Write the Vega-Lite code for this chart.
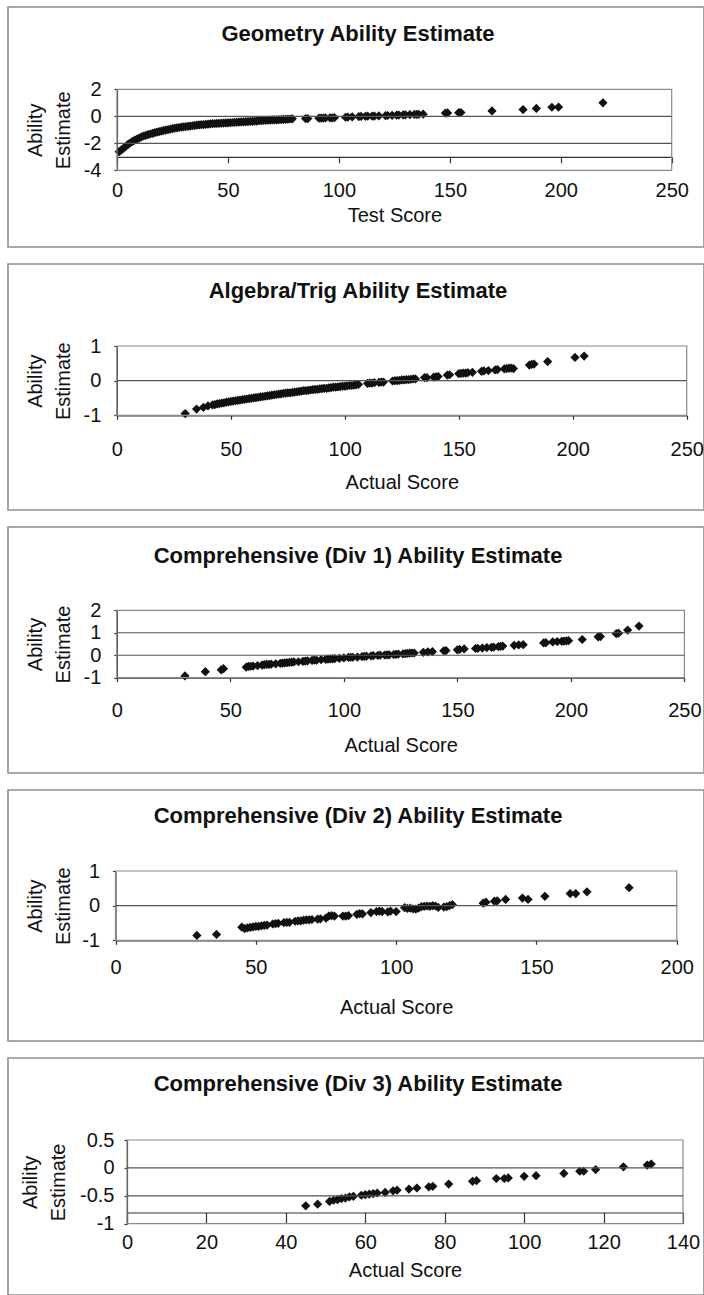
{
  "$schema": "https://vega.github.io/schema/vega-lite/v6.json",
  "background": "white",
  "padding": {"left": 7, "top": 6, "right": 0, "bottom": 0},
  "bounds": "flush",
  "spacing": 17,
  "config": {
    "view": {"stroke": "#8f8f8f", "strokeWidth": 1.6},
    "font": "Liberation Sans",
    "axis": {"labelFont": "Liberation Sans", "labelFontSize": 20, "labelColor": "#111", "titleFont": "Liberation Sans", "titleFontSize": 20, "titleFontWeight": "normal", "titleColor": "#111", "domainColor": "#333", "tickColor": "#333", "domainWidth": 1.2, "tickWidth": 1.2, "grid": false, "labelFlush": false, "labelOverlap": false},
    "title": {"font": "Liberation Sans", "fontSize": 22, "fontWeight": "bold", "color": "#111", "baseline": "alphabetic", "dx": 2},
    "point": {"shape": "diamond", "filled": true, "color": "#111", "size": 85, "opacity": 1}
  },
  "datasets": {
    "geometry": [
      {"score":1,"ability":-2.62},{"score":2,"ability":-2.48},{"score":3,"ability":-2.35},{"score":4,"ability":-2.22},{"score":5,"ability":-2.08},{"score":6,"ability":-1.96},{"score":7,"ability":-1.86},{"score":8,"ability":-1.77},{"score":9,"ability":-1.69},{"score":10,"ability":-1.61},{"score":11,"ability":-1.53},{"score":12,"ability":-1.46},{"score":13,"ability":-1.41},{"score":14,"ability":-1.36},{"score":15,"ability":-1.31},{"score":16,"ability":-1.26},{"score":17,"ability":-1.21},{"score":18,"ability":-1.17},{"score":19,"ability":-1.13},{"score":20,"ability":-1.09},{"score":21,"ability":-1.05},{"score":22,"ability":-1.02},{"score":23,"ability":-0.99},{"score":24,"ability":-0.95},{"score":25,"ability":-0.92},{"score":26,"ability":-0.88},{"score":27,"ability":-0.85},{"score":28,"ability":-0.83},{"score":29,"ability":-0.8},{"score":30,"ability":-0.78},{"score":31,"ability":-0.76},{"score":32,"ability":-0.74},{"score":33,"ability":-0.72},{"score":34,"ability":-0.7},{"score":35,"ability":-0.68},{"score":36,"ability":-0.66},{"score":37,"ability":-0.64},{"score":38,"ability":-0.62},{"score":39,"ability":-0.61},{"score":40,"ability":-0.59},{"score":41,"ability":-0.58},{"score":42,"ability":-0.56},{"score":43,"ability":-0.55},{"score":44,"ability":-0.54},{"score":45,"ability":-0.53},{"score":46,"ability":-0.52},{"score":47,"ability":-0.51},{"score":48,"ability":-0.5},{"score":49,"ability":-0.49},{"score":50,"ability":-0.48},{"score":51,"ability":-0.47},{"score":52,"ability":-0.46},{"score":53,"ability":-0.45},{"score":54,"ability":-0.44},{"score":55,"ability":-0.43},{"score":56,"ability":-0.42},{"score":57,"ability":-0.41},{"score":58,"ability":-0.4},{"score":59,"ability":-0.39},{"score":60,"ability":-0.38},{"score":61,"ability":-0.37},{"score":62,"ability":-0.36},{"score":63,"ability":-0.35},{"score":64,"ability":-0.33},{"score":65,"ability":-0.32},{"score":66,"ability":-0.31},{"score":67,"ability":-0.3},{"score":68,"ability":-0.29},{"score":69,"ability":-0.28},{"score":70,"ability":-0.27},{"score":71,"ability":-0.27},{"score":72,"ability":-0.26},{"score":73,"ability":-0.25},{"score":74,"ability":-0.24},{"score":75,"ability":-0.23},{"score":76,"ability":-0.22},{"score":77,"ability":-0.21},{"score":78,"ability":-0.2},{"score":79,"ability":-0.19},{"score":85,"ability":-0.17},{"score":86,"ability":-0.17},{"score":91,"ability":-0.14},{"score":92,"ability":-0.13},{"score":93,"ability":-0.13},{"score":94,"ability":-0.12},{"score":96,"ability":-0.11},{"score":97,"ability":-0.11},{"score":98,"ability":-0.1},{"score":103,"ability":-0.07},{"score":104,"ability":-0.06},{"score":106,"ability":-0.04},{"score":109,"ability":-0.02},{"score":110,"ability":-0.01},{"score":112,"ability":0.0},{"score":113,"ability":0.01},{"score":115,"ability":0.02},{"score":116,"ability":0.02},{"score":118,"ability":0.03},{"score":121,"ability":0.05},{"score":122,"ability":0.06},{"score":124,"ability":0.07},{"score":126,"ability":0.08},{"score":127,"ability":0.09},{"score":129,"ability":0.1},{"score":130,"ability":0.11},{"score":132,"ability":0.12},{"score":134,"ability":0.14},{"score":135,"ability":0.15},{"score":136,"ability":0.15},{"score":138,"ability":0.16},{"score":148,"ability":0.24},{"score":149,"ability":0.25},{"score":154,"ability":0.27},{"score":155,"ability":0.28},{"score":169,"ability":0.4},{"score":183,"ability":0.5},{"score":189,"ability":0.58},{"score":196,"ability":0.67},{"score":199,"ability":0.68},{"score":219,"ability":1.0}
    ],
    "algebra": [
      {"score":30,"ability":-0.95},{"score":35,"ability":-0.82},{"score":38,"ability":-0.77},{"score":40,"ability":-0.73},{"score":42,"ability":-0.7},{"score":43,"ability":-0.69},{"score":44,"ability":-0.67},{"score":45,"ability":-0.66},{"score":46,"ability":-0.65},{"score":47,"ability":-0.64},{"score":48,"ability":-0.62},{"score":49,"ability":-0.61},{"score":50,"ability":-0.6},{"score":51,"ability":-0.59},{"score":52,"ability":-0.58},{"score":53,"ability":-0.57},{"score":54,"ability":-0.56},{"score":55,"ability":-0.55},{"score":56,"ability":-0.54},{"score":57,"ability":-0.53},{"score":58,"ability":-0.52},{"score":59,"ability":-0.51},{"score":60,"ability":-0.5},{"score":61,"ability":-0.49},{"score":62,"ability":-0.48},{"score":63,"ability":-0.47},{"score":64,"ability":-0.46},{"score":65,"ability":-0.45},{"score":66,"ability":-0.44},{"score":67,"ability":-0.43},{"score":68,"ability":-0.42},{"score":69,"ability":-0.41},{"score":70,"ability":-0.4},{"score":71,"ability":-0.39},{"score":72,"ability":-0.38},{"score":73,"ability":-0.37},{"score":74,"ability":-0.36},{"score":75,"ability":-0.35},{"score":76,"ability":-0.35},{"score":77,"ability":-0.34},{"score":78,"ability":-0.33},{"score":79,"ability":-0.32},{"score":80,"ability":-0.31},{"score":81,"ability":-0.3},{"score":82,"ability":-0.29},{"score":83,"ability":-0.29},{"score":84,"ability":-0.28},{"score":85,"ability":-0.27},{"score":86,"ability":-0.26},{"score":87,"ability":-0.25},{"score":88,"ability":-0.25},{"score":89,"ability":-0.24},{"score":90,"ability":-0.23},{"score":91,"ability":-0.22},{"score":92,"ability":-0.22},{"score":93,"ability":-0.21},{"score":94,"ability":-0.2},{"score":95,"ability":-0.19},{"score":96,"ability":-0.19},{"score":97,"ability":-0.18},{"score":98,"ability":-0.17},{"score":99,"ability":-0.16},{"score":100,"ability":-0.16},{"score":101,"ability":-0.15},{"score":102,"ability":-0.14},{"score":103,"ability":-0.14},{"score":104,"ability":-0.13},{"score":105,"ability":-0.12},{"score":106,"ability":-0.11},{"score":110,"ability":-0.08},{"score":111,"ability":-0.07},{"score":112,"ability":-0.07},{"score":113,"ability":-0.06},{"score":115,"ability":-0.05},{"score":116,"ability":-0.04},{"score":117,"ability":-0.04},{"score":121,"ability":-0.01},{"score":122,"ability":0.0},{"score":123,"ability":0.0},{"score":124,"ability":0.01},{"score":125,"ability":0.02},{"score":126,"ability":0.02},{"score":127,"ability":0.03},{"score":128,"ability":0.03},{"score":129,"ability":0.04},{"score":130,"ability":0.05},{"score":131,"ability":0.05},{"score":135,"ability":0.09},{"score":136,"ability":0.09},{"score":139,"ability":0.1},{"score":140,"ability":0.11},{"score":141,"ability":0.12},{"score":145,"ability":0.16},{"score":146,"ability":0.17},{"score":150,"ability":0.2},{"score":151,"ability":0.21},{"score":152,"ability":0.22},{"score":153,"ability":0.22},{"score":154,"ability":0.23},{"score":156,"ability":0.24},{"score":160,"ability":0.27},{"score":161,"ability":0.28},{"score":163,"ability":0.29},{"score":166,"ability":0.31},{"score":167,"ability":0.32},{"score":170,"ability":0.34},{"score":171,"ability":0.35},{"score":172,"ability":0.36},{"score":173,"ability":0.36},{"score":174,"ability":0.35},{"score":181,"ability":0.45},{"score":182,"ability":0.47},{"score":183,"ability":0.48},{"score":189,"ability":0.55},{"score":201,"ability":0.67},{"score":205,"ability":0.71}
    ],
    "div1": [
      {"score":30,"ability":-0.92},{"score":39,"ability":-0.73},{"score":46,"ability":-0.65},{"score":47,"ability":-0.6},{"score":57,"ability":-0.53},{"score":58,"ability":-0.5},{"score":59,"ability":-0.49},{"score":60,"ability":-0.48},{"score":62,"ability":-0.46},{"score":64,"ability":-0.44},{"score":65,"ability":-0.42},{"score":66,"ability":-0.41},{"score":67,"ability":-0.41},{"score":68,"ability":-0.4},{"score":70,"ability":-0.38},{"score":72,"ability":-0.36},{"score":73,"ability":-0.35},{"score":74,"ability":-0.34},{"score":75,"ability":-0.33},{"score":76,"ability":-0.32},{"score":77,"ability":-0.31},{"score":78,"ability":-0.3},{"score":80,"ability":-0.29},{"score":82,"ability":-0.27},{"score":83,"ability":-0.26},{"score":84,"ability":-0.25},{"score":86,"ability":-0.23},{"score":87,"ability":-0.22},{"score":88,"ability":-0.22},{"score":90,"ability":-0.2},{"score":92,"ability":-0.18},{"score":93,"ability":-0.17},{"score":94,"ability":-0.16},{"score":95,"ability":-0.16},{"score":96,"ability":-0.15},{"score":98,"ability":-0.14},{"score":100,"ability":-0.12},{"score":102,"ability":-0.1},{"score":103,"ability":-0.09},{"score":104,"ability":-0.09},{"score":106,"ability":-0.08},{"score":108,"ability":-0.06},{"score":109,"ability":-0.05},{"score":110,"ability":-0.04},{"score":112,"ability":-0.03},{"score":113,"ability":-0.02},{"score":115,"ability":-0.01},{"score":116,"ability":0.0},{"score":118,"ability":0.01},{"score":119,"ability":0.02},{"score":120,"ability":0.02},{"score":122,"ability":0.03},{"score":123,"ability":0.04},{"score":124,"ability":0.05},{"score":126,"ability":0.06},{"score":127,"ability":0.07},{"score":128,"ability":0.08},{"score":129,"ability":0.09},{"score":130,"ability":0.1},{"score":131,"ability":0.1},{"score":135,"ability":0.13},{"score":137,"ability":0.15},{"score":139,"ability":0.16},{"score":144,"ability":0.2},{"score":145,"ability":0.21},{"score":150,"ability":0.24},{"score":151,"ability":0.26},{"score":153,"ability":0.28},{"score":158,"ability":0.3},{"score":159,"ability":0.31},{"score":161,"ability":0.32},{"score":163,"ability":0.34},{"score":165,"ability":0.35},{"score":166,"ability":0.36},{"score":168,"ability":0.38},{"score":169,"ability":0.39},{"score":170,"ability":0.41},{"score":175,"ability":0.44},{"score":177,"ability":0.46},{"score":179,"ability":0.47},{"score":188,"ability":0.55},{"score":189,"ability":0.56},{"score":192,"ability":0.59},{"score":194,"ability":0.61},{"score":196,"ability":0.62},{"score":197,"ability":0.63},{"score":198,"ability":0.64},{"score":199,"ability":0.65},{"score":205,"ability":0.7},{"score":212,"ability":0.82},{"score":213,"ability":0.83},{"score":220,"ability":0.96},{"score":221,"ability":0.98},{"score":225,"ability":1.12},{"score":230,"ability":1.3}
    ],
    "div2": [
      {"score":29,"ability":-0.86},{"score":36,"ability":-0.83},{"score":45,"ability":-0.62},{"score":46,"ability":-0.66},{"score":47,"ability":-0.64},{"score":48,"ability":-0.63},{"score":49,"ability":-0.61},{"score":50,"ability":-0.6},{"score":51,"ability":-0.6},{"score":52,"ability":-0.58},{"score":53,"ability":-0.57},{"score":54,"ability":-0.56},{"score":56,"ability":-0.53},{"score":57,"ability":-0.52},{"score":58,"ability":-0.51},{"score":60,"ability":-0.49},{"score":61,"ability":-0.48},{"score":62,"ability":-0.48},{"score":64,"ability":-0.45},{"score":65,"ability":-0.44},{"score":66,"ability":-0.44},{"score":67,"ability":-0.42},{"score":68,"ability":-0.41},{"score":69,"ability":-0.41},{"score":70,"ability":-0.4},{"score":72,"ability":-0.39},{"score":73,"ability":-0.38},{"score":75,"ability":-0.36},{"score":76,"ability":-0.3},{"score":77,"ability":-0.29},{"score":78,"ability":-0.3},{"score":81,"ability":-0.3},{"score":82,"ability":-0.3},{"score":83,"ability":-0.29},{"score":86,"ability":-0.25},{"score":87,"ability":-0.23},{"score":88,"ability":-0.24},{"score":91,"ability":-0.2},{"score":93,"ability":-0.17},{"score":94,"ability":-0.16},{"score":95,"ability":-0.17},{"score":97,"ability":-0.18},{"score":98,"ability":-0.16},{"score":100,"ability":-0.17},{"score":103,"ability":-0.06},{"score":104,"ability":-0.08},{"score":105,"ability":-0.07},{"score":106,"ability":-0.09},{"score":107,"ability":-0.1},{"score":108,"ability":-0.07},{"score":109,"ability":-0.03},{"score":110,"ability":-0.02},{"score":111,"ability":-0.01},{"score":112,"ability":-0.02},{"score":113,"ability":0.0},{"score":114,"ability":-0.01},{"score":115,"ability":-0.05},{"score":117,"ability":-0.04},{"score":118,"ability":-0.03},{"score":119,"ability":0.0},{"score":120,"ability":0.03},{"score":131,"ability":0.07},{"score":132,"ability":0.1},{"score":135,"ability":0.13},{"score":136,"ability":0.14},{"score":139,"ability":0.18},{"score":145,"ability":0.22},{"score":147,"ability":0.18},{"score":153,"ability":0.27},{"score":162,"ability":0.35},{"score":164,"ability":0.35},{"score":168,"ability":0.4},{"score":183,"ability":0.52}
    ],
    "div3": [
      {"score":45,"ability":-0.68},{"score":48,"ability":-0.65},{"score":51,"ability":-0.6},{"score":52,"ability":-0.58},{"score":53,"ability":-0.57},{"score":54,"ability":-0.55},{"score":55,"ability":-0.54},{"score":56,"ability":-0.52},{"score":57,"ability":-0.51},{"score":59,"ability":-0.49},{"score":60,"ability":-0.48},{"score":61,"ability":-0.47},{"score":62,"ability":-0.46},{"score":63,"ability":-0.45},{"score":65,"ability":-0.44},{"score":67,"ability":-0.41},{"score":68,"ability":-0.4},{"score":71,"ability":-0.38},{"score":73,"ability":-0.36},{"score":76,"ability":-0.34},{"score":77,"ability":-0.33},{"score":81,"ability":-0.29},{"score":87,"ability":-0.24},{"score":88,"ability":-0.23},{"score":93,"ability":-0.19},{"score":95,"ability":-0.19},{"score":96,"ability":-0.18},{"score":100,"ability":-0.15},{"score":103,"ability":-0.14},{"score":110,"ability":-0.1},{"score":114,"ability":-0.06},{"score":115,"ability":-0.06},{"score":118,"ability":-0.03},{"score":125,"ability":0.02},{"score":131,"ability":0.05},{"score":132,"ability":0.07}
    ]
  },
  "vconcat": [
    {
      "width": 696, "height": 240,
      "title": {"text": "Geometry Ability Estimate", "offset": -39},
      "layer": [
        {"data": {"name": "geometry"}, "mark": {"type": "point"},
         "encoding": {
           "x": {"field": "score", "type": "quantitative", "scale": {"domain": [0, 250], "range": [109, 663.7], "nice": false, "zero": false},
                 "axis": {"values": [0, 50, 100, 150, 200, 250], "offset": -90.2, "tickSize": 6, "labelPadding": 17.6, "labelExpr": "'' + datum.value", "title": "Test Score", "titleX": 386.4, "titleY": 48.6, "titleBaseline": "top", "titleAlign": "center"}},
           "y": {"field": "ability", "type": "quantitative", "scale": {"domain": [-4, 2], "range": [163.3, 82.3], "nice": false, "zero": false},
                 "axis": {"values": [-4, -2, 0, 2], "offset": -109, "tickSize": 3, "labelPadding": 13, "labelExpr": "'' + datum.value", "title": ["Ability", "Estimate"], "titleAngle": 270, "titleBaseline": "top", "titleAlign": "center", "titleLineHeight": 28, "titleX": -91.7, "titleY": 122.8}}
         }},
        {"data": {"values": [{}]}, "mark": {"type": "rect", "filled": false, "color": "#8a8a8a", "strokeWidth": 1.2},
         "encoding": {"x": {"datum": 0, "type": "quantitative"}, "x2": {"datum": 250},
                      "y": {"datum": 2, "type": "quantitative"}, "y2": {"datum": -4}}},
        {"data": {"values": [{"level": 0}, {"level": -2}]}, "mark": {"type": "rule", "color": "#555", "strokeWidth": 1.2},
         "encoding": {"y": {"field": "level", "type": "quantitative"},
                      "x": {"datum": 0, "type": "quantitative"}, "x2": {"datum": 250}}}
      ]
    },
    {
      "width": 696, "height": 246,
      "title": {"text": "Algebra/Trig Ability Estimate", "offset": -39},
      "layer": [
        {"data": {"name": "algebra"}, "mark": {"type": "point"},
         "encoding": {
           "x": {"field": "score", "type": "quantitative", "scale": {"domain": [0, 250], "range": [108.8, 678.7], "nice": false, "zero": false},
                 "axis": {"values": [0, 50, 100, 150, 200, 250], "offset": -94.7, "tickSize": 4, "labelPadding": 19.8, "labelExpr": "'' + datum.value", "title": "Actual Score", "titleX": 393.8, "titleY": 57.1, "titleBaseline": "top", "titleAlign": "center"}},
           "y": {"field": "ability", "type": "quantitative", "scale": {"domain": [-1, 1], "range": [151.3, 82], "nice": false, "zero": false},
                 "axis": {"values": [-1, 0, 1], "offset": -108.8, "tickSize": 3, "labelPadding": 13, "labelExpr": "'' + datum.value", "title": ["Ability", "Estimate"], "titleAngle": 270, "titleBaseline": "top", "titleAlign": "center", "titleLineHeight": 28, "titleX": -91.5, "titleY": 116.7}}
         }},
        {"data": {"values": [{}]}, "mark": {"type": "rect", "filled": false, "color": "#8a8a8a", "strokeWidth": 1.2},
         "encoding": {"x": {"datum": 0, "type": "quantitative"}, "x2": {"datum": 250},
                      "y": {"datum": 1, "type": "quantitative"}, "y2": {"datum": -1}}},
        {"data": {"values": [{"level": 0}]}, "mark": {"type": "rule", "color": "#555", "strokeWidth": 1.2},
         "encoding": {"y": {"field": "level", "type": "quantitative"},
                      "x": {"datum": 0, "type": "quantitative"}, "x2": {"datum": 250}}}
      ]
    },
    {
      "width": 696, "height": 246,
      "title": {"text": "Comprehensive (Div 1) Ability Estimate", "offset": -41},
      "layer": [
        {"data": {"name": "div1"}, "mark": {"type": "point"},
         "encoding": {
           "x": {"field": "score", "type": "quantitative", "scale": {"domain": [0, 250], "range": [108.8, 676.4], "nice": false, "zero": false},
                 "axis": {"values": [0, 50, 100, 150, 200, 250], "offset": -95.3, "tickSize": 4, "labelPadding": 19, "labelExpr": "'' + datum.value", "title": "Actual Score", "titleX": 392.6, "titleY": 58, "titleBaseline": "top", "titleAlign": "center"}},
           "y": {"field": "ability", "type": "quantitative", "scale": {"domain": [-1, 2], "range": [150.7, 83.3], "nice": false, "zero": false},
                 "axis": {"values": [-1, 0, 1, 2], "offset": -108.8, "tickSize": 3, "labelPadding": 13, "labelExpr": "'' + datum.value", "title": ["Ability", "Estimate"], "titleAngle": 270, "titleBaseline": "top", "titleAlign": "center", "titleLineHeight": 28, "titleX": -91.5, "titleY": 117}}
         }},
        {"data": {"values": [{}]}, "mark": {"type": "rect", "filled": false, "color": "#8a8a8a", "strokeWidth": 1.2},
         "encoding": {"x": {"datum": 0, "type": "quantitative"}, "x2": {"datum": 250},
                      "y": {"datum": 2, "type": "quantitative"}, "y2": {"datum": -1}}},
        {"data": {"values": [{"level": 1}, {"level": 0}]}, "mark": {"type": "rule", "color": "#555", "strokeWidth": 1.2},
         "encoding": {"y": {"field": "level", "type": "quantitative"},
                      "x": {"datum": 0, "type": "quantitative"}, "x2": {"datum": 250}}}
      ]
    },
    {
      "width": 696, "height": 251,
      "title": {"text": "Comprehensive (Div 2) Ability Estimate", "offset": -38},
      "layer": [
        {"data": {"name": "div2"}, "mark": {"type": "point"},
         "encoding": {
           "x": {"field": "score", "type": "quantitative", "scale": {"domain": [0, 200], "range": [107.5, 668.8], "nice": false, "zero": false},
                 "axis": {"values": [0, 50, 100, 150, 200], "offset": -100.7, "tickSize": 4, "labelPadding": 13.1, "labelExpr": "'' + datum.value", "title": "Actual Score", "titleX": 388.2, "titleY": 57.1, "titleBaseline": "top", "titleAlign": "center"}},
           "y": {"field": "ability", "type": "quantitative", "scale": {"domain": [-1, 1], "range": [150.3, 81], "nice": false, "zero": false},
                 "axis": {"values": [-1, 0, 1], "offset": -107.5, "tickSize": 3, "labelPadding": 13, "labelExpr": "'' + datum.value", "title": ["Ability", "Estimate"], "titleAngle": 270, "titleBaseline": "top", "titleAlign": "center", "titleLineHeight": 28, "titleX": -90.2, "titleY": 115.7}}
         }},
        {"data": {"values": [{}]}, "mark": {"type": "rect", "filled": false, "color": "#8a8a8a", "strokeWidth": 1.2},
         "encoding": {"x": {"datum": 0, "type": "quantitative"}, "x2": {"datum": 200},
                      "y": {"datum": 1, "type": "quantitative"}, "y2": {"datum": -1}}},
        {"data": {"values": [{"level": 0}]}, "mark": {"type": "rule", "color": "#555", "strokeWidth": 1.2},
         "encoding": {"y": {"field": "level", "type": "quantitative"},
                      "x": {"datum": 0, "type": "quantitative"}, "x2": {"datum": 200}}}
      ]
    },
    {
      "width": 696, "height": 237,
      "title": {"text": "Comprehensive (Div 3) Ability Estimate", "offset": -38},
      "layer": [
        {"data": {"name": "div3"}, "mark": {"type": "point"},
         "encoding": {
           "x": {"field": "score", "type": "quantitative", "scale": {"domain": [0, 140], "range": [119, 675], "nice": false, "zero": false},
                 "axis": {"values": [0, 20, 40, 60, 80, 100, 120, 140], "offset": -82.5, "tickSize": 11, "labelPadding": 9, "labelExpr": "'' + datum.value", "title": "Actual Score", "titleX": 397, "titleY": 48, "titleBaseline": "top", "titleAlign": "center"}},
           "y": {"field": "ability", "type": "quantitative", "scale": {"domain": [-1, 0.5], "range": [165.7, 82], "nice": false, "zero": false},
                 "axis": {"values": [-1, -0.5, 0, 0.5], "offset": -119, "tickSize": 3, "labelPadding": 10, "labelExpr": "'' + datum.value", "title": ["Ability", "Estimate"], "titleAngle": 270, "titleBaseline": "top", "titleAlign": "center", "titleLineHeight": 28, "titleX": -106.7, "titleY": 123.9}}
         }},
        {"data": {"values": [{}]}, "mark": {"type": "rect", "filled": false, "color": "#8a8a8a", "strokeWidth": 1.2},
         "encoding": {"x": {"datum": 0, "type": "quantitative"}, "x2": {"datum": 140},
                      "y": {"datum": 0.5, "type": "quantitative"}, "y2": {"datum": -1}}},
        {"data": {"values": [{"level": 0}, {"level": -0.5}]}, "mark": {"type": "rule", "color": "#555", "strokeWidth": 1.2},
         "encoding": {"y": {"field": "level", "type": "quantitative"},
                      "x": {"datum": 0, "type": "quantitative"}, "x2": {"datum": 140}}}
      ]
    }
  ]
}
